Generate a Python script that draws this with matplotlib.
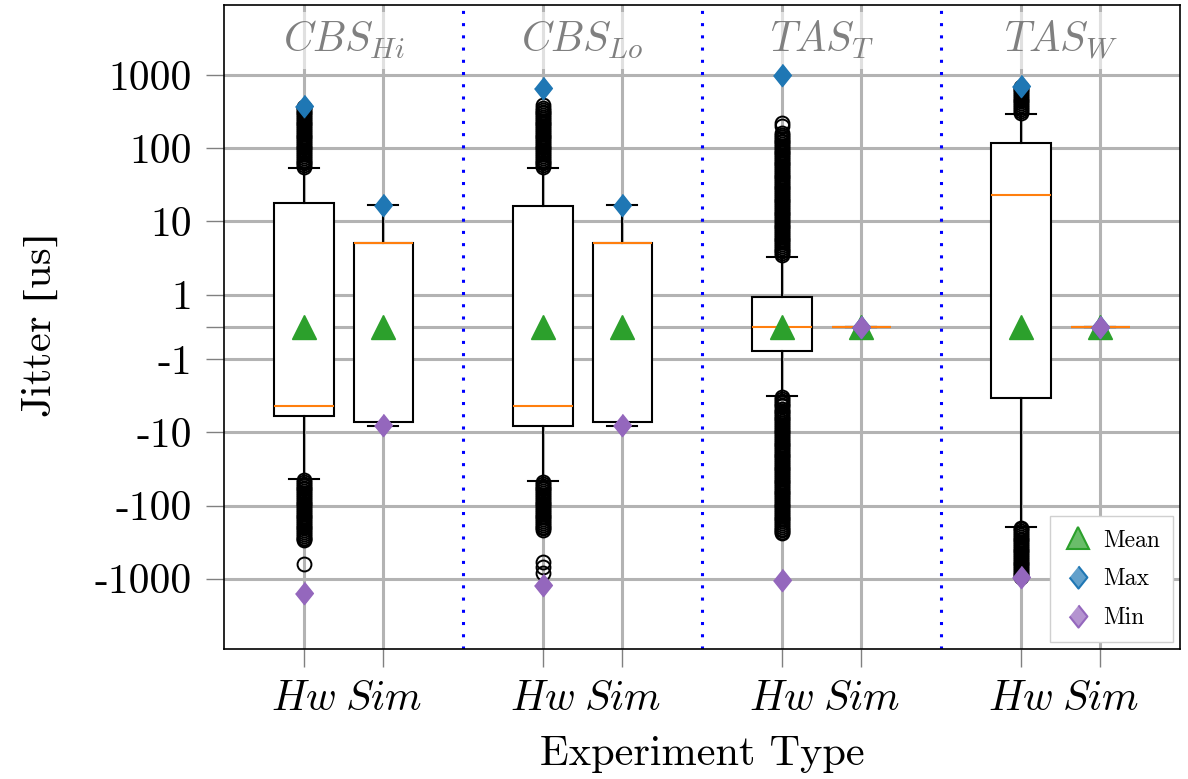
import matplotlib
matplotlib.use("Agg")
import matplotlib.pyplot as plt
from matplotlib.lines import Line2D
import matplotlib.transforms as mtransforms

plt.rcParams["font.family"] = "serif"
plt.rcParams["font.serif"] = ["cmr10"]
plt.rcParams["mathtext.fontset"] = "cm"
plt.rcParams["axes.unicode_minus"] = False

# Data: jitter statistics [us] per experiment (Hw / Sim for each shaper)
groups = [r"$CBS_{Hi}$", r"$CBS_{Lo}$", r"$TAS_T$", r"$TAS_W$"]
box_labels = [r"$Hw$", r"$Sim$"] * 4
positions = [1, 2, 4, 5, 7, 8, 10, 11]

med = [-4.3, 5.0, -4.3, 5.0, 0.0, 0.0, 23.0, 0.0]
q1 = [-6.0, -7.2, -8.1, -7.2, -0.73, 0.0, -3.4, 0.0]
q3 = [18.0, 5.0, 16.3, 5.0, 0.92, 0.0, 118.0, 0.0]
whislo = [-43.0, -8.1, -46.0, -8.1, -3.2, 0.0, -195.0, 0.0]
whishi = [54.0, 17.0, 54.0, 17.0, 3.3, 0.0, 300.0, 0.0]
means = [0.0, 0.0, 0.0, 0.0, 0.0, 0.0, 0.0, 0.0]
maxima = [383.0, 17.0, 676.0, 17.0, 1015.0, 0.0, 718.0, 0.0]
minima = [-1560.0, -8.0, -1230.0, -8.0, -1050.0, 0.0, -960.0, 0.0]

fliers_cbs_hi_hw = [56, 59, 63, 66, 70, 75, 79, 84, 89, 94, 100, 106, 112,
                    119, 126, 134, 142, 150, 159, 169, 179, 190, 201, 213,
                    226, 240, 254, 269, 285, 302, 320, 340, 360, 375,
                    -45, -48, -51, -54, -57, -60, -64, -68, -72, -76, -81,
                    -86, -91, -96, -102, -108, -115, -122, -129, -137, -145,
                    -154, -163, -173, -183, -194, -206, -218, -231, -245,
                    -260, -275, -290, -296, -635]
fliers_cbs_lo_hw = [56, 59, 63, 66, 70, 75, 79, 84, 89, 94, 100, 106, 112,
                    119, 126, 134, 142, 150, 159, 169, 179, 190, 201, 213,
                    226, 240, 254, 269, 285, 302, 320, 340, 360, 390,
                    -48, -51, -54, -57, -60, -64, -68, -72, -76, -81, -86,
                    -91, -96, -102, -108, -115, -122, -129, -137, -145, -154,
                    -163, -173, -183, -194, -206, -217,
                    -590, -690, -850]
fliers_tas_t_hw = [3.5, 3.7, 3.9, 4.1, 4.4, 4.6, 4.9, 5.2, 5.5, 5.8, 6.2,
                   6.6, 7.0, 7.4, 7.8, 8.3, 8.8, 9.3, 9.9, 10.5, 11.1, 11.8,
                   12.5, 13.2, 14.0, 14.9, 15.8, 16.7, 17.7, 18.8, 19.9, 21.1,
                   22.4, 23.7, 25.1, 26.7, 28.3, 30.0, 31.7, 33.7, 35.7, 37.8,
                   40.1, 42.5, 45.0, 47.7, 50.6, 53.6, 56.8, 60.3, 63.9, 67.7,
                   71.8, 76.1, 80.6, 85.5, 90.6, 96.0, 102, 108, 114, 121,
                   128, 136, 144, 153, 162, 200, 225,
                   -3.3, -3.5, -3.7, -3.9, -4.2, -4.4, -4.7, -5.0, -5.3, -5.6,
                   -5.9, -6.3, -6.6, -7.0, -7.5, -7.9, -8.4, -8.9, -9.4,
                   -10.0, -10.6, -11.2, -11.9, -12.6, -13.4, -14.2, -15.0,
                   -15.9, -16.9, -17.9, -19.0, -20.1, -21.3, -22.6, -24.0,
                   -25.4, -26.9, -28.5, -30.2, -32.0, -34.0, -36.0, -38.2,
                   -40.5, -42.9, -45.5, -48.2, -51.1, -54.2, -57.4, -60.9,
                   -64.5, -68.4, -72.5, -76.8, -81.4, -86.3, -91.5, -97.0,
                   -103, -109, -116, -122, -130, -138, -146, -155, -164,
                   -174, -184, -195, -207, -219, -232, -238]
fliers_tas_w_hw = [310, 330, 350, 370, 390, 415, 440, 465, 495, 525, 555,
                   590, 625, 660, 700,
                   -200, -212, -225, -238, -252, -267, -283, -300, -318,
                   -337, -357, -379, -401, -425, -451, -478, -507, -537,
                   -569, -603, -640, -678, -719, -762, -807, -856, -907, -955]
fliers = [fliers_cbs_hi_hw, [], fliers_cbs_lo_hw, [],
          fliers_tas_t_hw, [], fliers_tas_w_hw, []]

yticks = [-1000, -100, -10, -1, 0, 1, 10, 100, 1000]
ytick_labels = ["-1000", "-100", "-10", "-1", "", "1", "10", "100", "1000"]

stats = []
for i in range(len(positions)):
    stats.append(dict(med=med[i], q1=q1[i], q3=q3[i], whislo=whislo[i],
                      whishi=whishi[i], mean=means[i], fliers=fliers[i]))

fig = plt.figure(figsize=(11.88, 7.79), dpi=100)
ax = fig.add_axes([0.1886, 0.1669, 0.8047, 0.8267])

ax.set_yscale("symlog", linthresh=1, linscale=0.4)
ax.set_ylim(-9200, 9200)
ax.set_xlim(0, 12)

ax.grid(True, color="#b3b3b3", linewidth=2.2)
ax.set_axisbelow(True)

diamond = [(0, 1), (0.8, 0), (0, -1), (-0.8, 0)]

ax.bxp(
    stats,
    positions=positions,
    widths=0.75,
    showmeans=True,
    patch_artist=True,
    boxprops=dict(facecolor="white", edgecolor="black", linewidth=1.5),
    whiskerprops=dict(color="black", linewidth=1.5),
    capprops=dict(color="black", linewidth=1.5),
    medianprops=dict(color="#ff7f0e", linewidth=1.5),
    meanprops=dict(marker="^", markerfacecolor="#2ca02c",
                   markeredgecolor="#2ca02c", markersize=17),
    flierprops=dict(marker="o", markerfacecolor="none",
                    markeredgecolor="black", markersize=10,
                    markeredgewidth=1.4),
)

ax.plot(positions, maxima, linestyle="none", marker=diamond,
        color="#1f77b4", markersize=16, zorder=4)
ax.plot(positions, minima, linestyle="none", marker=diamond,
        color="#9467bd", markersize=16, zorder=5)

# group separators
for xs in [3, 6, 9]:
    ax.axvline(xs, color="blue", linestyle=(0, (1, 3)), linewidth=2.2, zorder=1)

# group names along the top
trans = mtransforms.blended_transform_factory(ax.transData, ax.transAxes)
for k, name in enumerate(groups):
    ax.text(positions[2 * k] + 0.5, 0.945, name, transform=trans,
            ha="center", va="center", fontsize=30, color="gray",
            bbox=dict(facecolor="white", edgecolor="none", alpha=0.6,
                      pad=5))

ax.set_yticks(yticks)
ax.set_yticklabels(ytick_labels)
ax.set_xticks(positions)
ax.set_xticklabels(box_labels)
ax.minorticks_off()
ax.tick_params(axis="both", length=13, width=1, color="gray", labelsize=30,
               pad=10)
for sp in ax.spines.values():
    sp.set_linewidth(1.2)

# brackets taken from the STIX math font
ax.set_ylabel(r"Jitter $[$us$]$", fontsize=30.5, math_fontfamily="stix")
ax.yaxis.set_label_coords(-0.172, 0.5)
ax.set_xlabel("Experiment Type", fontsize=30.5, labelpad=12)

handles = [
    Line2D([], [], linestyle="none", marker="^", markersize=16,
           markerfacecolor=(0.17, 0.63, 0.17, 0.7), markeredgecolor="#2ca02c",
           markeredgewidth=1.5, label="Mean"),
    Line2D([], [], linestyle="none", marker=diamond, markersize=16,
           markerfacecolor=(0.12, 0.47, 0.71, 0.7), markeredgecolor="#1f77b4",
           markeredgewidth=1.5, label="Max"),
    Line2D([], [], linestyle="none", marker=diamond, markersize=16,
           markerfacecolor=(0.58, 0.40, 0.74, 0.7), markeredgecolor="#9467bd",
           markeredgewidth=1.5, label="Min"),
]
ax.legend(handles=handles, loc="lower right", fontsize=17,
          labelspacing=0.7, handletextpad=0.4, handlelength=1.3,
          borderpad=0.55, fancybox=False, edgecolor="#d0d0d0",
          framealpha=1.0, borderaxespad=0.3)

fig.savefig("out.png", dpi=100)
